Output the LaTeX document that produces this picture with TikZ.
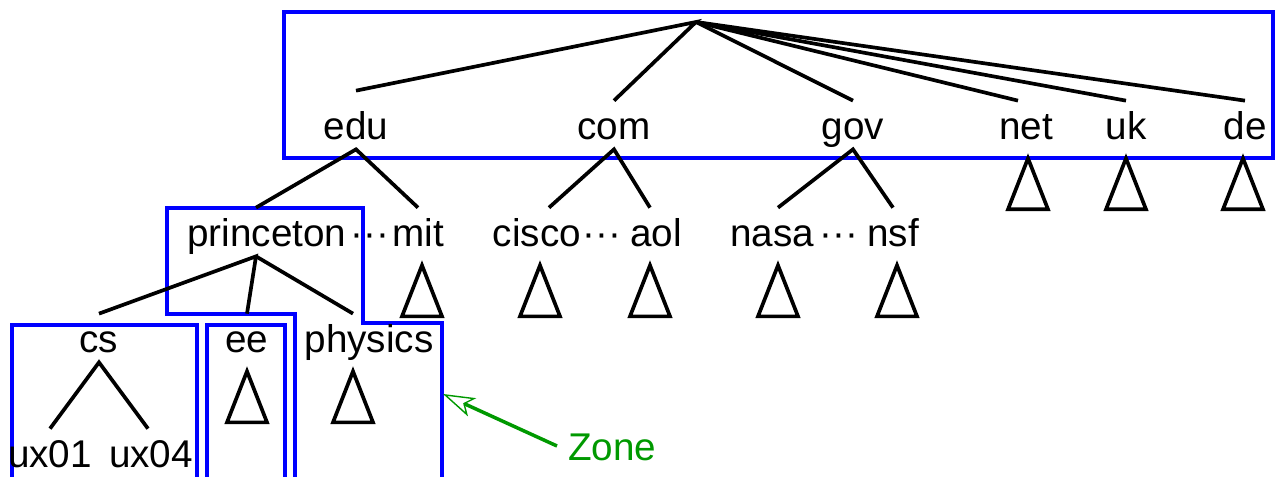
\documentclass[tikz,border=0pt]{standalone}
\usepackage{fontspec}
\setmainfont{Liberation Sans}
\usetikzlibrary{calc,positioning,arrows.meta}
\definecolor{ZoneBlue}{HTML}{0000FF}
\definecolor{ZoneGreen}{HTML}{009900}

\begin{document}
\begin{tikzpicture}[
  dom/.style={inner sep=0pt, anchor=base, text height=0.78cm, text depth=0.18cm,
              font=\fontsize{22}{26}\selectfont},
  gap/.style={dom},
  edge/.style={line width=2.1pt, line join=miter},
  zone/.style={draw=ZoneBlue, line width=2.2pt},
  note/.style={-{Stealth[open, length=0.64cm, width=0.4cm, inset=0.16cm, line width=0.8pt]},
               line width=2pt, color=ZoneGreen},
  subtree/.pic={\draw[edge] (0,0) -- (-0.4,-1.02) -- (0.4,-1.02) -- cycle;}
]
  \useasboundingbox (0,0) rectangle (25.54,-9.54);
  % zones
  \draw[zone] (5.68,-0.24) rectangle (25.46,-3.16);
  \draw[zone] (5.90,-9.8) -- (5.90,-6.28) -- (3.34,-6.28) -- (3.34,-4.16)
              -- (7.26,-4.16) -- (7.26,-6.46) -- (8.84,-6.46) -- (8.84,-9.8);
  \draw[zone] (0.24,-9.8) -- (0.24,-6.50) -- (3.94,-6.50) -- (3.94,-9.8);
  \draw[zone] (4.14,-9.8) -- (4.14,-6.50) -- (5.70,-6.50) -- (5.70,-9.8);
  % top level domains
  \coordinate (root) at (13.92,-0.44);
  \node[dom] (edu) at ( 7.12,-2.80) {edu};
  \node[dom] (com) at (12.28,-2.80) {com};
  \node[dom] (gov) at (17.06,-2.80) {gov};
  \node[dom] (net) at (20.52,-2.80) {net};
  \node[dom] (uk)  at (22.52,-2.80) {uk};
  \node[dom] (de)  at (24.90,-2.80) {de};
  % second level
  \node[dom] (princeton) at ( 5.34,-4.94) {princeton};
  \node[gap] (dotsA)     at ( 7.40,-4.94) {···};
  \node[dom] (mit)       at ( 8.36,-4.94) {mit};
  \node[dom] (cisco)     at (10.74,-4.94) {cisco};
  \node[gap] (dotsB)     at (12.04,-4.94) {···};
  \node[dom] (aol)       at (13.12,-4.94) {aol};
  \node[dom] (nasa)      at (15.44,-4.94) {nasa};
  \node[gap] (dotsC)     at (16.78,-4.94) {···};
  \node[dom] (nsf)       at (17.86,-4.94) {nsf};
  % third level
  \node[dom] (cs)      at (1.98,-7.06) {cs};
  \node[dom] (ee)      at (4.94,-7.06) {ee};
  \node[dom] (physics) at (7.38,-7.06) {physics};
  \node[dom] (ux01)    at (1.00,-9.36) {ux01};
  \node[dom] (ux04)    at (3.02,-9.36) {ux04};
  % tree edges
  \draw[edge] ([yshift=0.2cm]edu.north) -- (root) -- (com.north);
  \draw[edge] (root) -- (gov.north);
  \draw[edge] (root) -- ([xshift=-0.16cm]net.north);
  \draw[edge] (root) -- (uk.north);
  \draw[edge] (root) -- (de.north);
  \draw[edge] ([xshift=-0.22cm]princeton.north) -- (edu.south) -- (mit.north);
  \draw[edge] ([xshift=0.24cm]cisco.north) -- (com.south) -- ([xshift=-0.12cm]aol.north);
  \draw[edge] ([xshift=0.12cm]nasa.north) -- (gov.south) -- (nsf.north);
  \draw[edge] (cs.north) -- ([xshift=-0.22cm]princeton.south) -- (ee.north);
  \draw[edge] ([xshift=-0.22cm]princeton.south) -- ([xshift=-0.32cm]physics.north);
  \draw[edge] (ux01.north) -- (cs.south) -- ([xshift=-0.06cm]ux04.north);
  % subtrees
  \foreach \n/\dx in {net/0.04,uk/0,de/-0.04,mit/0.08,cisco/0.06,aol/-0.12,
                      nasa/0.12,nsf/0.08,ee/0,physics/-0.32}
    \pic at ([xshift=\dx cm, yshift=-0.18cm]\n.south) {subtree};
  % label
  \coordinate (zoneedge) at (8.86,-7.88);
  \node[dom, anchor=base west, text=ZoneGreen] (zonelbl) at (11.36,-9.22) {Zone};
  \draw[note] ([xshift=-0.22cm]zonelbl.west) -- (zoneedge);
\end{tikzpicture}
\end{document}
